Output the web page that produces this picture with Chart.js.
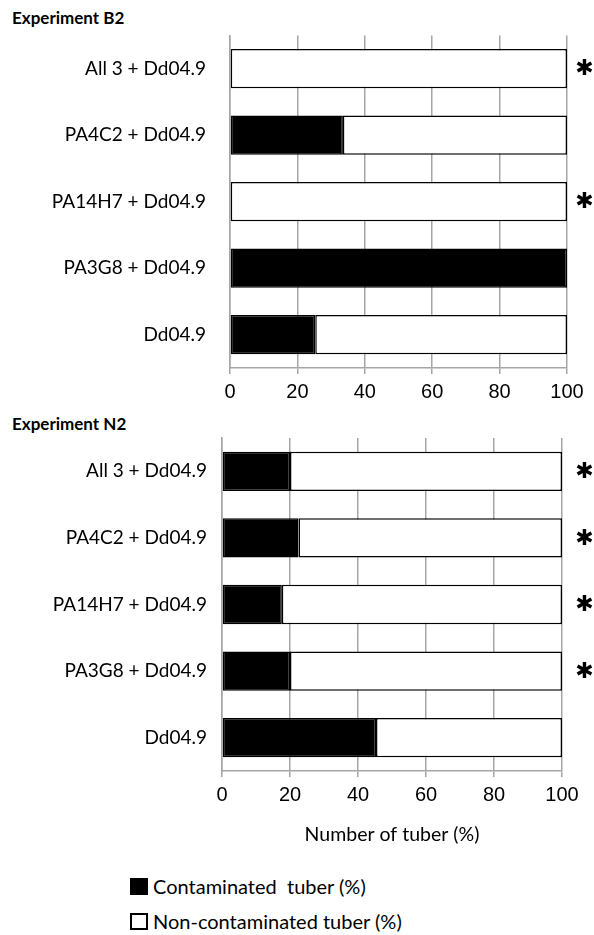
<!DOCTYPE html>
<html>
<head>
<meta charset="utf-8">
<script src="https://cdn.jsdelivr.net/npm/chart.js@4/dist/chart.umd.min.js"></script>
<style>
  html, body { margin: 0; padding: 0; background: #fff; }
  body { width: 594px; height: 935px; position: relative; overflow: hidden; }
  canvas { position: absolute; left: 0; }
  .ptitle { position: absolute; left: 12px; font-family: Lato, "Open Sans", sans-serif; font-weight: bold; font-size: 17px; color: #000; line-height: 20px; }
  .leg { position: absolute; left: 130px; font-family: Lato, "Open Sans", sans-serif; font-size: 20px; color: #000; display: flex; align-items: center; white-space: pre; line-height: 22px; }
  .box { width: 18px; height: 17px; margin-right: 5px; box-sizing: border-box; }
</style>
</head>
<body>
<div class="ptitle" style="top:8px">Experiment B2</div>
<canvas id="c1" width="594" height="410" style="top:0px"></canvas>
<div class="ptitle" style="top:414px">Experiment N2</div>
<canvas id="c2" width="594" height="445" style="top:405px"></canvas>
<div class="leg" style="top:875px"><div class="box" style="background:#000;border:2px solid #000"></div>Contaminated  tuber (%)</div>
<div class="leg" style="top:910px"><div class="box" style="background:#fff;border:2px solid #000"></div>Non-contaminated tuber (%)</div>
<script>
const categories = ["All 3 + Dd04.9", "PA4C2 + Dd04.9", "PA14H7 + Dd04.9", "PA3G8 + Dd04.9", "Dd04.9"];
const xTicks = [0, 20, 40, 60, 80, 100];

// Experiment B2
const b2Contaminated = [0, 33.5, 0, 100, 25.3];
const b2NonContaminated = [100, 66.5, 100, 0, 74.7];
const b2Significant = ["✱", "", "✱", "", ""];

// Experiment N2
const n2Contaminated = [20, 22.5, 17.6, 20, 45.3];
const n2NonContaminated = [80, 77.5, 82.4, 80, 54.7];
const n2Significant = ["✱", "✱", "✱", "✱", ""];

const legendLabels = ["Contaminated  tuber (%)", "Non-contaminated tuber (%)"];
const axisTitle = "Number of tuber (%)";

const starPlugin = {
  id: 'stars',
  afterDatasetsDraw(chart, args, opts) {
    const ctx = chart.ctx;
    const y = chart.scales.y;
    ctx.save();
    ctx.fillStyle = '#000';
    ctx.font = 'bold 22px "DejaVu Sans"';
    ctx.textAlign = 'center';
    ctx.textBaseline = 'middle';
    opts.marks.forEach((m, i) => {
      if (m) ctx.fillText(m, chart.width - 9.5, y.getPixelForValue(i) + 1);
    });
    ctx.restore();
  }
};

function makeChart(id, contaminated, nonContaminated, marks, cfg) {
  return new Chart(document.getElementById(id), {
    type: 'bar',
    data: {
      labels: categories,
      datasets: [
        { label: legendLabels[0], data: contaminated, backgroundColor: '#000', borderColor: '#000', borderWidth: 1.5, borderSkipped: false },
        { label: legendLabels[1], data: nonContaminated, backgroundColor: '#fff', borderColor: '#000', borderWidth: 1.5, borderSkipped: false }
      ]
    },
    options: {
      indexAxis: 'y',
      responsive: false,
      animation: false,
      events: [],
      layout: { padding: { top: cfg.top, right: cfg.right, left: 0, bottom: 0 } },
      datasets: { bar: { categoryPercentage: 1, barPercentage: 0.59 } },
      plugins: { legend: { display: false }, tooltip: { enabled: false }, stars: { marks: marks } },
      scales: {
        x: {
          stacked: true,
          min: 0, max: 100,
          afterBuildTicks(s) { s.ticks = xTicks.map(v => ({ value: v })); },
          afterFit(s) { s.height = cfg.xHeight; },
          grid: { color: '#a6a6a6', lineWidth: 1.5, tickLength: 6, drawTicks: true },
          border: { color: '#a6a6a6', width: 1.5 },
          ticks: { color: '#000', padding: 6, font: { family: '"Liberation Sans", Arial, sans-serif', size: 20 } },
          title: cfg.title ? { display: true, text: axisTitle, color: '#000', font: { family: 'Lato, "Open Sans", sans-serif', size: 19.5 }, padding: { top: 0, bottom: 4 } } : { display: false }
        },
        y: {
          stacked: true,
          afterFit(s) { s.width = cfg.yWidth; },
          grid: { display: false, drawTicks: false },
          border: { display: true, color: '#a6a6a6', width: 1.5 },
          ticks: { color: '#000', padding: cfg.yPad, font: { family: 'Lato, "Open Sans", sans-serif', size: 19 } }
        }
      }
    },
    plugins: [starPlugin]
  });
}

makeChart('c1', b2Contaminated, b2NonContaminated, b2Significant, { top: 30, right: 27, xHeight: 42, yWidth: 230, yPad: 24, title: false });
makeChart('c2', n2Contaminated, n2NonContaminated, n2Significant, { top: 33, right: 32, xHeight: 79, yWidth: 222, yPad: 15, title: true });
</script>
</body>
</html>
